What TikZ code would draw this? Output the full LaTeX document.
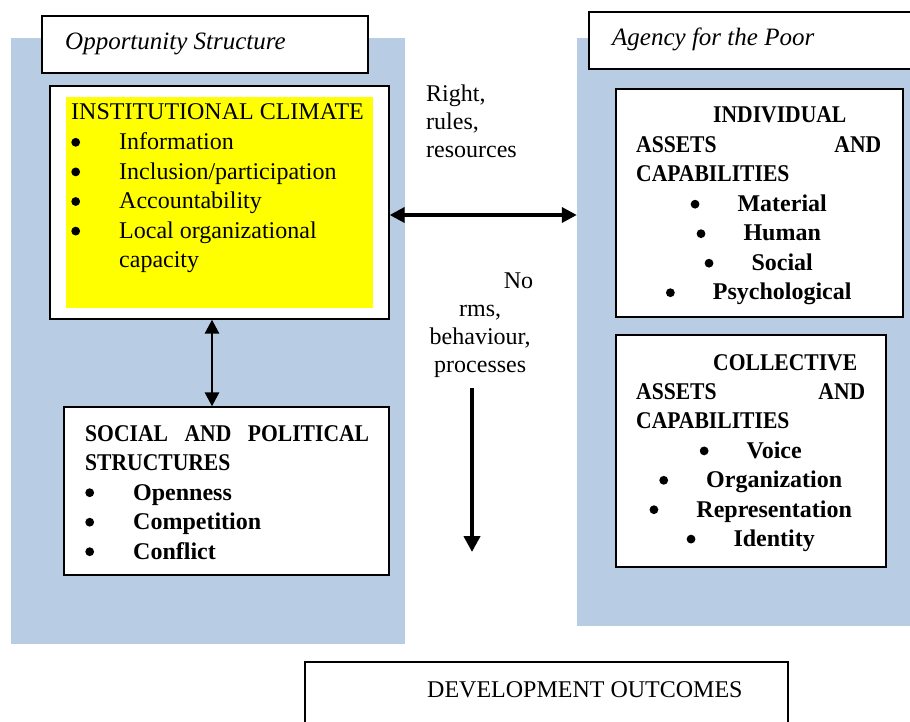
\documentclass[tikz,border=0pt]{standalone}
\usepackage{fontspec}
\setmainfont{Liberation Serif}
\newfontfamily\narrowserif[FakeStretch=0.9]{Liberation Serif}
\usetikzlibrary{arrows.meta}
\definecolor{panelblue}{HTML}{B8CCE4}
\definecolor{climateyellow}{HTML}{FFFF00}

% round bullet mark, 9pt wide, centred a little above the baseline
\newcommand\dotmark{\tikz[x=1pt,y=1pt,baseline=0pt]{\useasboundingbox (0,0) rectangle (9,12);\fill (4.5,7.3) circle[radius=4.4];}}
% one line of a text stack: left, centred, justified, right
\newcommand\rowL[1]{\hbox to\hsize{#1\hfil}}
\newcommand\rowC[1]{\hbox to\hsize{\hfil#1\hfil}}
\newcommand\rowJ[2]{\hbox to\hsize{#1\hfil#2}}
\newcommand\rowR[1]{\hbox to\hsize{\hfil#1}}
% bulleted lines: hanging and centred
\newcommand\itemL[1]{\rowL{\makebox[48pt][l]{\dotmark}#1}}
\newcommand\itemC[1]{\rowC{\dotmark\hspace{38pt}#1}}
% a block of lines whose baseline is that of its first line
\newcommand\textstack[3]{\vtop{\hsize=#1pt\baselineskip=#2pt\lineskiplimit=-100pt\relax #3}}

\tikzset{
  panel/.style={fill=panelblue, draw=none, inner sep=0pt},
  framebox/.style={draw=black, line width=1.3pt, fill=white, inner sep=0pt},
  fillbox/.style={fill=climateyellow, draw=none, inner sep=0pt},
  txt/.style={inner sep=0pt, anchor=base west},
  body/.style={font=\fontsize{24}{29.5}\selectfont},
  heavy/.style={font=\fontsize{24}{29.5}\selectfont\bfseries},
  caption/.style={font=\fontsize{25}{30}\selectfont\itshape},
  link/.style={line width=2.7pt, {Triangle[length=14pt,width=14pt]}-{Triangle[length=14pt,width=14pt]}},
  widelink/.style={line width=3.5pt, {Triangle[length=15pt,width=15pt]}-{Triangle[length=15pt,width=15pt]}},
  flow/.style={line width=4.5pt, -{Triangle[length=16pt,width=16pt]}}
}

\begin{document}
\begin{tikzpicture}[x=1pt,y=-1pt]
\useasboundingbox (0,0) rectangle (910,722);
\clip (0,0) rectangle (910,722);

% background panels
\node[panel, minimum width=394pt, minimum height=606pt] (opppanel) at (208,341) {};
\node[panel, minimum width=338pt, minimum height=588pt] (agencypanel) at (746,332) {};

% panel titles
\node[framebox, minimum width=326pt, minimum height=57pt] (oppbox) at (205,44.5) {};
\node[framebox, minimum width=326pt, minimum height=57pt] (agencybox) at (752,40.5) {};
\node[txt, caption] (opptitle) at (65,50) {Opportunity Structure};
\node[txt, caption] (agencytitle) at (612,46) {Agency for the Poor};

% institutional climate
\node[framebox, minimum width=339pt, minimum height=233pt] (inst) at (219.5,202.5) {};
\node[fillbox, minimum width=307pt, minimum height=211pt] (instfill) at (219.5,202.5) {};
\node[txt, body] (insttext) at (71,120) {\textstack{300}{29.6}{%
  \rowL{INSTITUTIONAL CLIMATE}
  \itemL{Information}
  \itemL{Inclusion/participation}
  \itemL{Accountability}
  \itemL{Local organizational}
  \rowL{\hspace{48pt}capacity}}};

% social and political structures
\node[framebox, minimum width=325pt, minimum height=168pt] (soc) at (226.5,491) {};
\node[txt, heavy] (soctext) at (85,441) {\textstack{284}{29.5}{%
  \rowJ{\narrowserif SOCIAL}{\narrowserif AND\hfil POLITICAL}
  \rowL{\narrowserif STRUCTURES}
  \itemL{Openness}
  \itemL{Competition}
  \itemL{Conflict}}};

% individual assets
\node[framebox, minimum width=287pt, minimum height=228pt] (indiv) at (759.5,203) {};
\node[txt, heavy] (indivtext) at (636,123) {\textstack{245}{29.5}{%
  \rowL{\hspace{77pt}\narrowserif INDIVIDUAL}
  \rowJ{\narrowserif ASSETS}{\narrowserif AND}
  \rowL{\narrowserif CAPABILITIES}
  \itemC{Material}
  \itemC{Human}
  \itemC{Social}
  \itemC{Psychological}}};

% collective assets
\node[framebox, minimum width=270pt, minimum height=232pt] (coll) at (751,451) {};
\node[txt, heavy] (colltext) at (636,370) {\textstack{229}{29.4}{%
  \rowL{\hspace{77pt}\narrowserif COLLECTIVE}
  \rowJ{\narrowserif ASSETS}{\narrowserif AND}
  \rowL{\narrowserif CAPABILITIES}
  \itemC{Voice}
  \itemC{Organization}
  \itemC{Representation}
  \itemC{Identity}}};

% development outcomes
\node[framebox, minimum width=483pt, minimum height=68pt] (dev) at (546.5,696) {};
\node[txt, body] (devtext) at (427,697) {DEVELOPMENT OUTCOMES};

% connector labels
\node[txt, body] (rightslabel) at (426,102) {\textstack{120}{28}{%
  \rowL{Right,}
  \rowL{rules,}
  \rowL{resources}}};
\node[txt, body] (normslabel) at (427,288) {\textstack{106}{28}{%
  \rowR{No}
  \rowC{rms,}
  \rowC{behaviour,}
  \rowC{processes}}};

% connectors
\coordinate (vx) at (212,0);
\coordinate (hy) at (0,215);
\coordinate (flowtop) at (472,388);
\coordinate (flowend) at (472,552);
\draw[link] (inst.south -| vx) -- (soc.north -| vx);
\draw[widelink] (inst.east |- hy) -- (agencypanel.west |- hy);
\draw[flow] (flowtop) -- (flowend);
\end{tikzpicture}
\end{document}
